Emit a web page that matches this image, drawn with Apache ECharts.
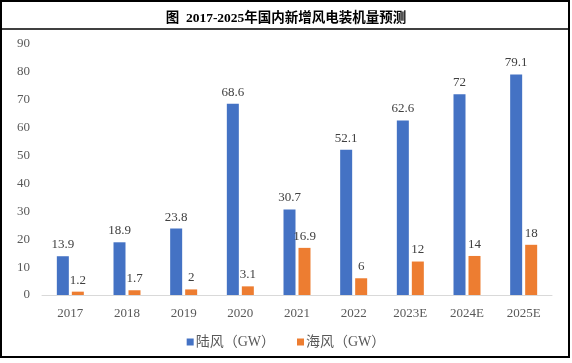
<!DOCTYPE html>
<html><head><meta charset="utf-8">
<script src="https://cdn.jsdelivr.net/npm/echarts@6/dist/echarts.min.js"></script>
<style>html,body{margin:0;padding:0;background:#fff}#c{width:572px;height:363px}</style>
</head><body><div id="c"></div>
<script>
const categories = ['2017','2018','2019','2020','2021','2022','2023E','2024E','2025E'];
const onshore = [13.9,18.9,23.8,68.6,30.7,52.1,62.6,72,79.1];
const offshore = [1.2,1.7,2,3.1,16.9,6,12,14,18];
const yTicks = [0,10,20,30,40,50,60,70,80,90];
const seriesNames = ['陆风（GW）','海风（GW）'];
const titleText = '图  2017-2025年国内新增风电装机量预测';

const font = '"Liberation Serif","Noto Sans CJK SC",serif';
const chart = echarts.init(document.getElementById('c'));
const lbl = {show:true, position:'top', distance:5, color:'#404040', fontSize:13, fontFamily:font};
chart.setOption({
  animation:false,
  title:{text:titleText, left:'center', top:7, textStyle:{fontSize:13.5, fontWeight:'bold', color:'#000', fontFamily:font}},
  graphic:[
    {type:'rect', shape:{x:1,y:1,width:568,height:356}, style:{fill:'none', stroke:'#000', lineWidth:2}},
    {type:'line', shape:{x1:1,y1:29,x2:569,y2:29}, style:{stroke:'#000', lineWidth:1.5}}
  ],
  legend:{bottom:9, left:'center', itemWidth:7, itemHeight:7, itemGap:22, icon:'rect',
    textStyle:{color:'#595959', fontSize:14, fontFamily:font, padding:[0,0,0,-3]}, data:seriesNames},
  grid:{left:42, right:20, top:44, bottom:68},
  xAxis:{type:'category', data:categories, axisLine:{lineStyle:{color:'#d9d9d9'}}, axisTick:{show:false},
    axisLabel:{color:'#595959', fontSize:13, fontFamily:font, margin:12}},
  yAxis:{type:'value', min:0, max:90, interval:10, splitLine:{show:false}, axisLine:{show:false}, axisTick:{show:false},
    axisLabel:{color:'#595959', fontSize:13, fontFamily:font, margin:12}},
  series:[
    {name:seriesNames[0], type:'bar', data:onshore, barWidth:12, barGap:'25%', itemStyle:{color:'#4472C4'}, label:lbl},
    {name:seriesNames[1], type:'bar', data:offshore, barWidth:12, itemStyle:{color:'#ED7D31'}, label:lbl}
  ]
});
</script></body></html>
